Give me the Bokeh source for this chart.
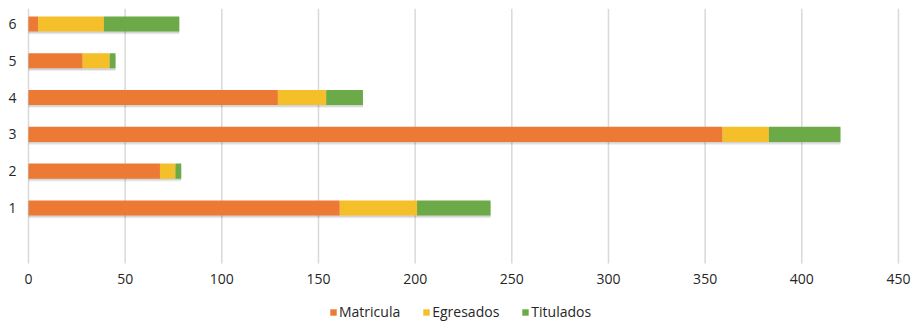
from bokeh.plotting import figure
from bokeh.models import ColumnDataSource, FixedTicker, Legend, LegendItem, Range1d
from bokeh.core.properties import value
from bokeh.embed import file_html
from bokeh.resources import INLINE

categories = [1, 2, 3, 4, 5, 6]
matricula = [161, 68, 359, 129, 28, 5]
egresados = [40, 8, 24, 25, 14, 34]
titulados = [38, 3, 37, 19, 3, 39]
series = ["Matricula", "Egresados", "Titulados"]
colors = ["#EC7A34", "#F5BF2A", "#6BAA46"]
x_ticks = [0, 50, 100, 150, 200, 250, 300, 350, 400, 450]
x_tick_labels = [str(t) for t in x_ticks]

totals = [a + b + c for a, b, c in zip(matricula, egresados, titulados)]
src = ColumnDataSource(dict(y=categories, Matricula=matricula, Egresados=egresados,
                            Titulados=titulados, total=totals,
                            ys1=[c - 0.07 for c in categories],
                            ys2=[c - 0.05 for c in categories]))

FONT = "Open Sans"
Y_TOP, Y_GRID_BOTTOM, Y_BOTTOM = 6.42, -0.51, -2.14
p = figure(frame_width=894, frame_height=315, output_backend="svg", toolbar_location=None,
           x_range=Range1d(-4.14, 458.3), y_range=Range1d(Y_BOTTOM, Y_TOP),
           x_axis_location=None,
           min_border_left=20, min_border_right=0, min_border_top=8, min_border_bottom=0)
p.outline_line_color = None

# vertical grid lines, limited to the bar area
n = len(x_ticks)
p.segment(x0=x_ticks, y0=[Y_GRID_BOTTOM] * n, x1=x_ticks, y1=[Y_TOP] * n,
          line_color="#d9d9d9", line_width=1.5)

# soft shadow under bars
p.hbar(y="ys1", left=0, right="total", height=0.42, source=src,
       fill_color="#000000", fill_alpha=0.07, line_color=None)
p.hbar(y="ys2", left=0, right="total", height=0.40, source=src,
       fill_color="#000000", fill_alpha=0.10, line_color=None)

renderers = p.hbar_stack(series, y="y", height=0.41, color=colors, source=src,
                         line_color=None)

# x tick labels (value axis)
p.text(x=x_ticks, y=[-0.944] * n, text=x_tick_labels,
       text_font=value(FONT), text_font_size="14px", text_color="#262626",
       text_align="center", text_baseline="middle")

p.yaxis.ticker = FixedTicker(ticks=categories)
ax = p.yaxis[0]
ax.axis_line_color = None
ax.major_tick_line_color = None
ax.minor_tick_line_color = None
ax.major_tick_out = 0
ax.major_tick_in = 0
ax.major_label_text_font = FONT
ax.major_label_text_font_size = "14px"
ax.major_label_text_color = "#262626"
ax.major_label_standoff = 4

p.xgrid.grid_line_color = None
p.ygrid.grid_line_color = None

legend = Legend(items=[LegendItem(label=s, renderers=[r]) for s, r in zip(series, renderers)],
                orientation="horizontal", location=(309, 2),
                label_text_font=FONT, label_text_font_size="14px",
                label_text_color="#262626", glyph_width=8, glyph_height=8,
                label_height=14, label_standoff=2, spacing=22, padding=0, margin=0,
                border_line_color=None, background_fill_alpha=0)
p.add_layout(legend)

open("out.html", "w").write(file_html(p, INLINE))
